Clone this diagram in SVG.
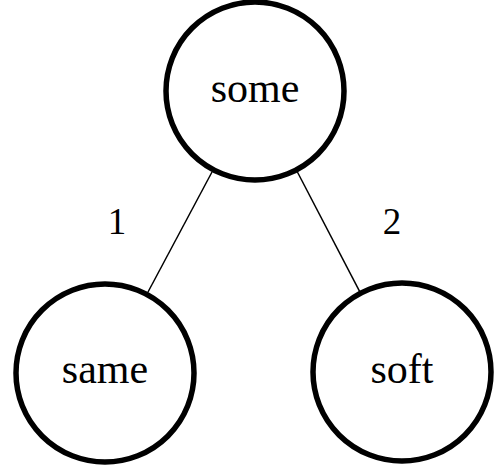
<svg xmlns="http://www.w3.org/2000/svg" width="495" height="466" viewBox="0 0 495 466">
<style>
.node{fill:#fff;stroke:#000;stroke-width:5.5}
.edge{stroke:#000;stroke-width:1.5;fill:none}
text{font-family:"Liberation Serif","DejaVu Serif",serif;fill:#000;text-anchor:middle}
.lbl{font-size:42px}
.num{font-size:37px}
</style>
<rect width="495" height="466" fill="#fff"/>
<g id="connectors">
<line class="edge" x1="212" y1="172" x2="148" y2="292"/>
<line class="edge" x1="297.4" y1="172" x2="359.6" y2="291.4"/>
<text class="num" x="117" y="234">1</text>
<text class="num" x="392" y="234">2</text>
</g>
<g id="some">
<circle class="node" cx="255" cy="91" r="89"/>
<text class="lbl" x="255" y="102">some</text>
</g>
<g id="same">
<circle class="node" cx="105" cy="373" r="89"/>
<text class="lbl" x="105" y="383">same</text>
</g>
<g id="soft">
<circle class="node" cx="402" cy="372" r="89"/>
<text class="lbl" x="402" y="383">soft</text>
</g>
</svg>
